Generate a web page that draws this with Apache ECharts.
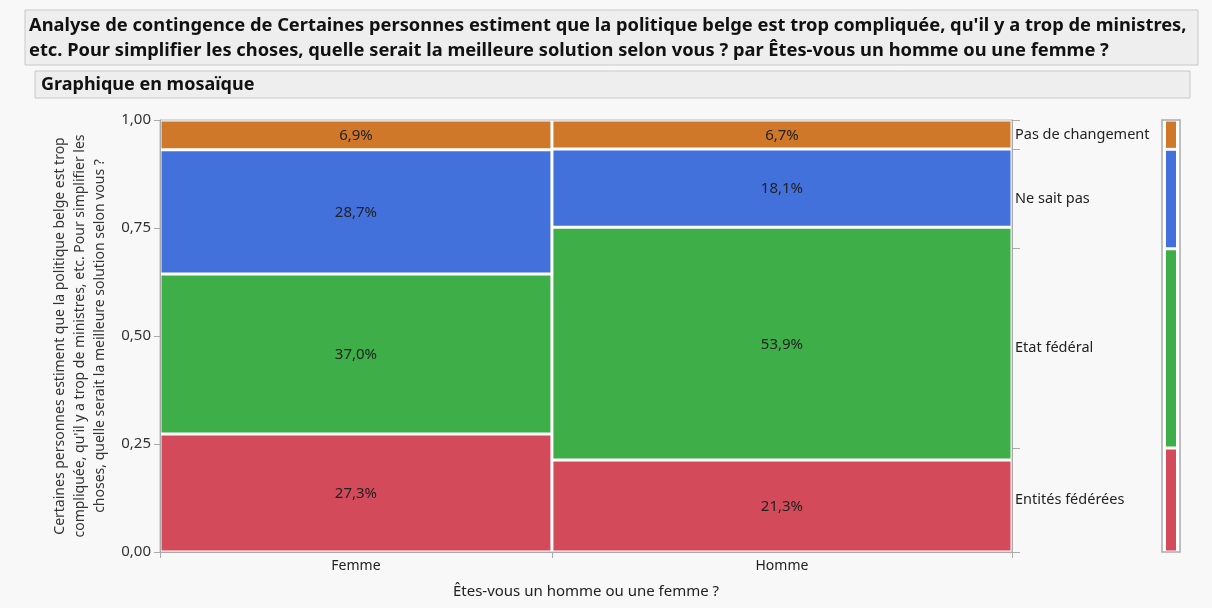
<!DOCTYPE html>
<html><head><meta charset="utf-8">
<script src="https://cdn.jsdelivr.net/npm/echarts@6/dist/echarts.min.js"></script>
<style>html,body{margin:0;padding:0;background:#f8f8f8}#c{width:1212px;height:608px}</style>
</head><body><div id="c"></div>
<script>
const genders = ['Femme', 'Homme'];
const genderShare = [0.46, 0.54];
const responses = ['Entités fédérées', 'Etat fédéral', 'Ne sait pas', 'Pas de changement'];
const femmePct = [27.3, 37.0, 28.7, 6.9];
const hommePct = [21.3, 53.9, 18.1, 6.7];
const yTickLabels = ['0,00', '0,25', '0,50', '0,75', '1,00'];
const colors = ['#d34a5a', '#3dae48', '#4371db', '#d0782a'];

const pctByGender = [femmePct, hommePct];
const FONT = 'Noto Sans';

// mosaic cells
const cells = [];
let x0 = 0;
genders.forEach((g, i) => {
  const pcts = pctByGender[i];
  const total = pcts.reduce((a, b) => a + b, 0);
  const x1 = x0 + genderShare[i];
  let y0 = 0;
  pcts.forEach((p, j) => {
    const y1 = y0 + p / total;
    cells.push([x0, x1, y0, y1, p, j]);
    y0 = y1;
  });
  x0 = x1;
});
const xBounds = [0];
genderShare.reduce((acc, s) => { acc += s; xBounds.push(acc); return acc; }, 0);
const xCenters = genders.map((g, i) => (xBounds[i] + xBounds[i + 1]) / 2);

// overall marginal shares
const overall = responses.map((r, j) => genderShare.reduce((s, sh, i) => {
  const t = pctByGender[i].reduce((a, b) => a + b, 0);
  return s + sh * pctByGender[i][j] / t;
}, 0));
const yBounds = [0];
overall.reduce((acc, v) => { acc += v; yBounds.push(acc); return acc; }, 0);
const yMids = responses.map((r, j) => (yBounds[j] + yBounds[j + 1]) / 2);
const legendCells = responses.map((r, j) => [0, 1, yBounds[j], yBounds[j + 1], 0, j]);

function nearestIdx(arr, v) {
  let b = 0, d = Infinity;
  arr.forEach((a, i) => { if (Math.abs(a - v) < d) { d = Math.abs(a - v); b = i; } });
  return b;
}

function cellRenderer(padX, padY, withText) {
  return function (params, api) {
    const a = api.coord([api.value(0), api.value(3)]);
    const b = api.coord([api.value(1), api.value(2)]);
    const j = api.value(5);
    const children = [{
      type: 'rect',
      shape: { x: a[0] + padX, y: a[1] + padY, width: b[0] - a[0] - 2 * padX, height: b[1] - a[1] - 2 * padY },
      style: { fill: colors[j] }
    }];
    if (withText) {
      children.push({
        type: 'text',
        style: {
          text: api.value(4).toFixed(1).replace('.', ',') + '%',
          x: (a[0] + b[0]) / 2, y: (a[1] + b[1]) / 2 + 1,
          align: 'center', verticalAlign: 'middle',
          fill: '#222', font: '15px "' + FONT + '"'
        }
      });
    }
    return { type: 'group', children };
  };
}

const chart = echarts.init(document.getElementById('c'), null, { renderer: 'canvas' });
chart.setOption({
  backgroundColor: '#f8f8f8',
  animation: false,
  graphic: [
    { type: 'rect', shape: { x: 25, y: 10, width: 1173, height: 55 }, style: { fill: '#eeeeee', stroke: '#c8c8c8', lineWidth: 1 }, z: -1 },
    { type: 'rect', shape: { x: 35, y: 71, width: 1155, height: 27 }, style: { fill: '#eeeeee', stroke: '#c8c8c8', lineWidth: 1 }, z: -1 }
  ],
  title: [{
    text: "Analyse de contingence de Certaines personnes estiment que la politique belge est trop compliquée, qu'il y a trop de ministres,\netc. Pour simplifier les choses, quelle serait la meilleure solution selon vous ? par Êtes-vous un homme ou une femme ?",
    left: 29, top: 13, padding: 0,
    textStyle: { fontFamily: FONT, fontWeight: 'bold', fontSize: 18.3, lineHeight: 25, color: '#111' }
  }, {
    text: 'Graphique en mosaïque',
    left: 41, top: 73, padding: 0,
    textStyle: { fontFamily: FONT, fontWeight: 'bold', fontSize: 18, lineHeight: 24, color: '#111' }
  }],
  grid: [
    { left: 160, right: 200, top: 120, bottom: 56, show: true, borderColor: '#bbbbbb', borderWidth: 1, backgroundColor: '#ffffff' },
    { left: 1162, width: 18, top: 120, bottom: 56, show: true, borderColor: '#aaaaaa', borderWidth: 1.5, backgroundColor: '#ffffff' }
  ],
  xAxis: [{
    type: 'value', gridIndex: 0, min: 0, max: 1,
    name: 'Êtes-vous un homme ou une femme ?', nameLocation: 'middle', nameGap: 32,
    nameTextStyle: { fontFamily: FONT, fontSize: 15, color: '#222' },
    splitLine: { show: false },
    axisLine: { show: true, lineStyle: { color: '#aaaaaa' } },
    axisTick: { show: true, length: 6, customValues: xBounds, lineStyle: { color: '#aaaaaa' } },
    axisLabel: {
      customValues: xCenters, margin: 7,
      fontFamily: FONT, fontSize: 14, color: '#222',
      formatter: v => genders[nearestIdx(xCenters, v)]
    }
  }, {
    type: 'value', gridIndex: 1, min: 0, max: 1, show: false
  }],
  yAxis: [{
    type: 'value', gridIndex: 0, min: 0, max: 1, interval: 0.25,
    name: 'Certaines personnes estiment que la politique belge est trop\ncompliquée, qu\'il y a trop de ministres, etc. Pour simplifier les\nchoses, quelle serait la meilleure solution selon vous ?',
    nameLocation: 'middle', nameGap: 50, nameRotate: 90,
    nameTextStyle: { fontFamily: FONT, fontSize: 14, lineHeight: 20, color: '#333', align: 'center' },
    splitLine: { show: false },
    axisLine: { show: true, lineStyle: { color: '#aaaaaa' } },
    axisTick: { show: true, length: 6, lineStyle: { color: '#aaaaaa' } },
    axisLabel: { fontFamily: FONT, fontSize: 15, color: '#333', margin: 9, formatter: v => yTickLabels[Math.round(v * 4)] }
  }, {
    type: 'value', gridIndex: 0, min: 0, max: 1, position: 'right',
    splitLine: { show: false },
    axisLine: { show: true, lineStyle: { color: '#aaaaaa' } },
    axisTick: { show: true, length: 8, inside: false, customValues: yBounds, lineStyle: { color: '#aaaaaa' } },
    axisLabel: {
      customValues: yMids, margin: 3,
      fontFamily: FONT, fontSize: 14.5, color: '#222',
      formatter: v => responses[nearestIdx(yMids, v)]
    }
  }, {
    type: 'value', gridIndex: 1, min: 0, max: 1, show: false
  }],
  series: [{
    type: 'custom', xAxisIndex: 0, yAxisIndex: 0,
    renderItem: cellRenderer(1.5, 1.5, true),
    data: cells
  }, {
    type: 'custom', xAxisIndex: 1, yAxisIndex: 2,
    renderItem: cellRenderer(4, 1.5, false),
    data: legendCells
  }]
});
</script></body></html>
